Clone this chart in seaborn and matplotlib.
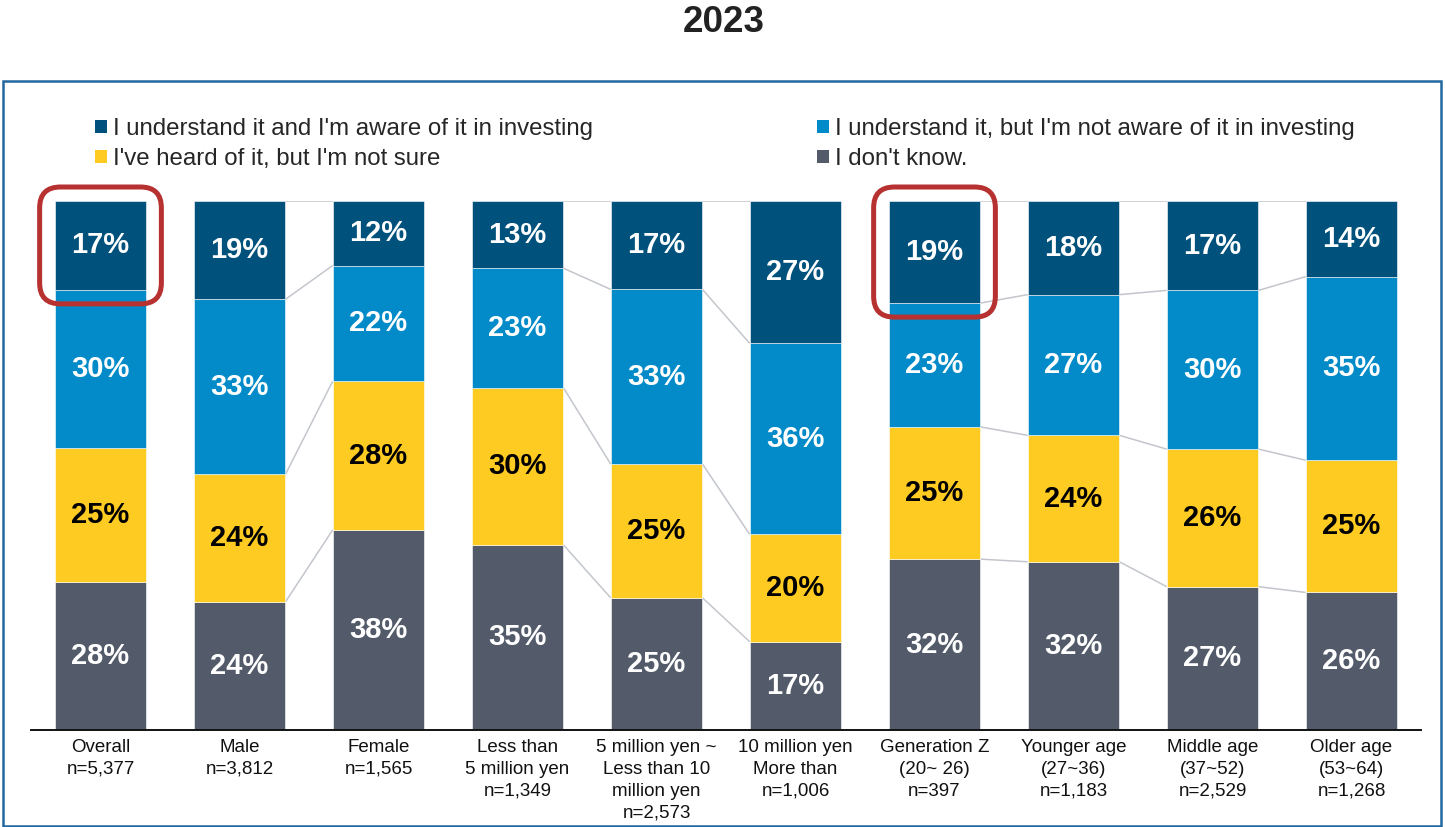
import numpy as np
import pandas as pd
import seaborn as sns
import matplotlib
matplotlib.use("Agg")
import matplotlib.pyplot as plt
from matplotlib.patches import Patch, FancyBboxPatch, Rectangle

# ---- data -------------------------------------------------------------
categories = [
    "Overall\nn=5,377",
    "Male\nn=3,812",
    "Female\nn=1,565",
    "Less than\n5 million yen\nn=1,349",
    "5 million yen ~\nLess than 10\nmillion yen\nn=2,573",
    "10 million yen\nMore than\nn=1,006",
    "Generation Z\n(20~ 26)\nn=397",
    "Younger age\n(27~36)\nn=1,183",
    "Middle age\n(37~52)\nn=2,529",
    "Older age\n(53~64)\nn=1,268",
]
aware = [16.8, 18.6, 12.2, 12.7, 16.7, 26.9, 19.3, 17.7, 16.9, 14.3]
understand = [29.8, 33.1, 21.9, 22.6, 33.0, 36.1, 23.4, 26.6, 30.0, 34.7]
heard = [25.4, 24.1, 28.1, 29.7, 25.3, 20.3, 25.0, 23.9, 26.0, 25.0]
unknown = [28.0, 24.2, 37.8, 35.0, 25.0, 16.7, 32.3, 31.8, 27.1, 26.0]

series_names = [
    "I understand it and I'm aware of it in investing",
    "I understand it, but I'm not aware of it in investing",
    "I've heard of it, but I'm not sure",
    "I don't know.",
]
groups = [[0], [1, 2], [3, 4, 5], [6, 7, 8, 9]]
highlighted = [0, 6]
title = "2023"

# ---- style ------------------------------------------------------------
sns.set_theme(style="white")
plt.rcParams["font.family"] = ["Liberation Sans", "DejaVu Sans"]

c_aware = "#00517C"
c_under = "#028BC8"
c_heard = "#FDCB22"
c_unknown = "#535B6B"
c_link = "#C3C6CC"

W, H = 1445, 827
fig = plt.figure(figsize=(W / 100, H / 100), dpi=100)
ax = fig.add_axes([31 / W, (H - 730) / H, 1390 / W, 529 / H])

bar_w = 0.66
# stacked from the bottom: unknown, heard, understand, aware
stack = [
    (unknown, c_unknown, "white"),
    (heard, c_heard, "black"),
    (understand, c_under, "white"),
    (aware, c_aware, "white"),
]
bottom = np.zeros(len(categories))
levels = []
for vals, col, tcol in stack:
    vals = np.asarray(vals, dtype=float)
    sns.barplot(x=categories, y=vals, order=categories, bottom=bottom,
                color=col, width=bar_w, errorbar=None, ax=ax,
                saturation=1, edgecolor="white", linewidth=0.4)
    for i, v in enumerate(vals):
        ax.text(i, bottom[i] + v / 2, f"{v:.0f}%", ha="center", va="center",
                color=tcol, fontsize=21, fontweight="bold")
    bottom = bottom + vals
    levels.append(bottom.copy())

# connector lines between neighbouring bars of the same group
for grp in groups:
    for a, b in zip(grp[:-1], grp[1:]):
        for lev in levels:
            ax.plot([a + bar_w / 2, b - bar_w / 2], [lev[a], lev[b]],
                    color=c_link, lw=1.1, zorder=0.5, solid_capstyle="butt")

ax.set_xlim(-0.5, len(categories) - 0.5)
ax.set_ylim(0, 100)
ax.set_yticks([])
ax.set_ylabel("")
ax.set_xlabel("")
for s in ["top", "left", "right"]:
    ax.spines[s].set_visible(False)
ax.spines["bottom"].set_color("#111111")
ax.spines["bottom"].set_linewidth(1.4)
ax.tick_params(axis="x", length=0, pad=6.5)
for lbl in ax.get_xticklabels():
    lbl.set_fontsize(13.5)
    lbl.set_linespacing(1.37)
    lbl.set_color("#111111")

# rounded highlight boxes around the top segment
px_x = 1390 / len(categories)
px_y = 529 / 100
for i in highlighted:
    pad_x = 15 / px_x
    pad_y = 14 / px_y
    y0 = levels[2][i] - pad_y
    y1 = 100 + pad_y
    box = FancyBboxPatch((i - bar_w / 2 - pad_x, y0), bar_w + 2 * pad_x, y1 - y0,
                         boxstyle="round,pad=0,rounding_size=0.15",
                         mutation_aspect=px_x / px_y,
                         fill=False, edgecolor="#B73131", lw=3.6,
                         clip_on=False, zorder=5)
    ax.add_patch(box)

# legend in two columns
colors = [c_aware, c_under, c_heard, c_unknown]
handles = [Patch(facecolor=c, edgecolor="none") for c in colors]
leg_kw = dict(frameon=False, fontsize=17.3, handlelength=0.5, handleheight=0.5,
              handletextpad=0.25, labelspacing=0.33, borderpad=0,
              borderaxespad=0, loc="center left")
leg1 = fig.legend([handles[0], handles[2]], [series_names[0], series_names[2]],
                  bbox_to_anchor=(95 / W, 1 - 144 / H), **leg_kw)
leg2 = fig.legend([handles[1], handles[3]], [series_names[1], series_names[3]],
                  bbox_to_anchor=(817 / W, 1 - 144 / H), **leg_kw)

# frame and title
fig.add_artist(Rectangle((3 / W, 1 - 826 / H), 1438 / W, 745 / H,
                         transform=fig.transFigure, fill=False,
                         edgecolor="#22679F", lw=1.8))
fig.text(724 / W, 1 - 22 / H, title, ha="center", va="center",
         fontsize=26.5, fontweight="bold", color="#222222")

fig.savefig("out.png", dpi=100)
